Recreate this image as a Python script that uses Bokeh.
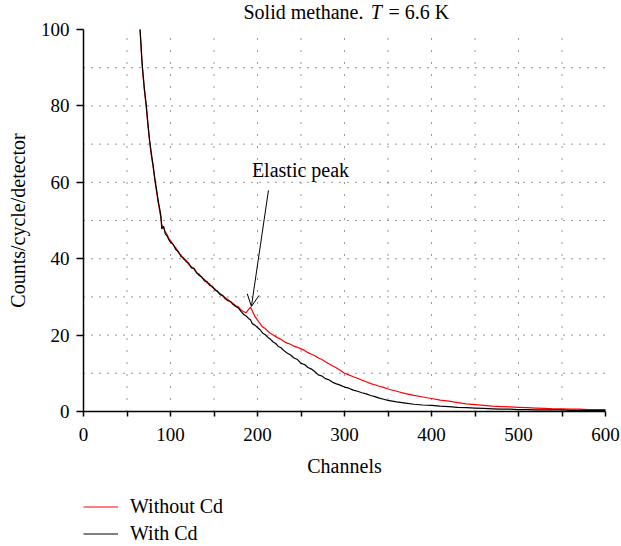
import math
from bokeh.plotting import figure
from bokeh.models import (Range1d, FixedTicker, Label, Arrow, OpenHead, Legend, LegendItem)
from bokeh.embed import file_html
from bokeh.resources import INLINE

channels = [65, 66, 67, 68, 70, 72, 74, 76, 78, 80, 82, 84, 86, 88, 89, 90, 92, 94, 96, 98,
            100, 103, 106, 109, 112, 115, 118, 121, 124, 127, 130, 133, 136, 139, 142, 145, 148, 151, 154, 157,
            160, 163, 166, 169, 172, 175, 178, 181, 184, 187, 190, 192, 194, 197, 200, 203, 206, 209, 212, 215,
            218, 221, 224, 227, 230, 234, 238, 242, 246, 250, 254, 258, 262, 266, 270, 274, 278, 282, 286, 290,
            295, 300, 305, 310, 315, 320, 325, 330, 335, 340, 345, 350, 360, 370, 380, 390, 400, 410, 420, 430,
            440, 450, 460, 470, 480, 490, 500, 510, 520, 530, 540, 550, 560, 570, 580, 590, 600]

without_cd = [100, 96, 92, 89, 84, 80, 75, 70.5, 67, 64, 60.5, 57.5, 54.5, 52, 50.5, 48.8, 48.2, 47.0, 46.4, 45.3,
              44.8, 43.6, 42.9, 41.6, 41.0, 39.9, 39.6, 38.5, 37.9, 37.3, 36.2, 36.0, 35.0, 34.6, 33.7, 33.4, 32.5, 32.1, 31.3, 30.9,
              30.2, 29.8, 29.3, 28.7, 28.3, 27.7, 27.4, 26.6, 26.1, 25.9, 26.8, 27.3, 26.4, 24.9, 23.9, 23.0, 22.1, 21.7, 21.0, 20.4,
              20.0, 19.6, 19.2, 18.9, 18.4, 17.9, 17.6, 17.1, 16.8, 16.4, 16.0, 15.4, 15.0, 14.6, 14.0, 13.6, 13.0, 12.5, 12.0, 11.5,
              10.8, 10.0, 9.6, 9.1, 8.7, 8.2, 7.8, 7.3, 7.0, 6.6, 6.3, 5.9, 5.3, 4.7, 4.2, 3.8, 3.4, 3.0, 2.7, 2.3,
              2.0, 1.8, 1.6, 1.4, 1.3, 1.2, 1.1, 1.0, 0.9, 0.8, 0.7, 0.7, 0.6, 0.6, 0.5, 0.5, 0.5]

with_cd = [100, 96.5, 92.5, 89.5, 84.5, 80.5, 75.5, 71, 67.5, 64.5, 61, 58, 55, 52.5, 51, 47.8, 48.5, 46.5, 46.0, 45.0,
           44.3, 43.8, 42.4, 41.9, 40.6, 40.2, 39.2, 38.8, 37.6, 37.5, 36.4, 35.6, 35.2, 34.2, 34.0, 33.0, 32.8, 31.8, 31.5, 30.6,
           30.4, 29.5, 29.0, 28.8, 28.0, 27.5, 27.1, 26.2, 25.4, 25.0, 24.3, 24.0, 23.0, 22.6, 22.0, 21.4, 20.5, 20.1, 19.4, 18.9,
           18.2, 17.8, 17.0, 16.7, 16.0, 15.3, 14.8, 14.0, 13.6, 12.6, 12.3, 11.5, 11.1, 10.4, 9.6, 9.3, 8.6, 8.3, 7.7, 7.3,
           6.9, 6.4, 6.1, 5.6, 5.3, 4.9, 4.6, 4.2, 3.9, 3.5, 3.2, 2.9, 2.5, 2.2, 1.9, 1.7, 1.6, 1.4, 1.3, 1.1,
           1.0, 0.9, 0.8, 0.7, 0.6, 0.6, 0.5, 0.5, 0.4, 0.4, 0.4, 0.4, 0.3, 0.3, 0.3, 0.3, 0.3]

assert len(channels) == len(without_cd) == len(with_cd)

x_ticks = [0, 100, 200, 300, 400, 500, 600]
x_minor = [50, 150, 250, 350, 450, 550]
y_ticks = [0, 20, 40, 60, 80, 100]
x_grid = [50, 100, 150, 200, 250, 300, 350, 400, 450, 500, 550]
y_grid = [10, 20, 30, 40, 50, 60, 70, 80, 90]

FONT = "Liberation Serif"

# The frame spans the whole canvas; 0..600 maps to pixels 83..605 and
# 0..100 to pixels 411..29. Axes are pinned at 0 and bounded to the data box.
W, H = 621, 546
X0_PX, X1_PX, Y0_PX, Y1_PX = 83, 605, 411, 29
sx = (X1_PX - X0_PX) / 600
sy = (Y0_PX - Y1_PX) / 100
X_LO, X_HI = -X0_PX / sx, (W - X0_PX) / sx
Y_LO, Y_HI = -(H - Y0_PX) / sy, Y0_PX / sy

p = figure(width=W, height=H, output_backend="svg", toolbar_location=None,
           x_range=Range1d(X_LO, X_HI), y_range=Range1d(Y_LO, Y_HI),
           min_border_left=0, min_border_right=0, min_border_top=0, min_border_bottom=0)
p.outline_line_color = None
p.background_fill_color = "white"
p.border_fill_color = "white"
p.xgrid.visible = False
p.ygrid.visible = False

for ax in (p.xaxis[0], p.yaxis[0]):
    ax.fixed_location = 0
    ax.axis_line_color = "black"
    ax.axis_line_width = 1.5
    ax.major_tick_line_color = "black"
    ax.major_tick_line_width = 1.5
    ax.minor_tick_line_color = "black"
    ax.minor_tick_line_width = 1.5
    ax.major_tick_in = 0
    ax.minor_tick_in = 0
    ax.major_label_text_font = FONT
    ax.major_label_text_font_size = "19px"
    ax.major_label_text_color = "black"

p.xaxis.ticker = FixedTicker(ticks=x_ticks, minor_ticks=x_minor)
p.xaxis.bounds = (0, 600)
p.xaxis.major_tick_out = 5
p.xaxis.minor_tick_out = 5
p.xaxis.major_label_standoff = 11

p.yaxis.ticker = FixedTicker(ticks=y_ticks)
p.yaxis.bounds = (0, 100)
p.yaxis.major_tick_out = 7
p.yaxis.minor_tick_out = 0
p.yaxis.major_label_standoff = 7

# axis titles
p.add_layout(Label(x=300, y=-14.2, text="Channels", text_align="center",
                   text_baseline="alphabetic", text_font=FONT, text_font_size="20px",
                   text_color="black"))
p.add_layout(Label(x=-75.5, y=50, text="Counts/cycle/detector", text_align="center",
                   text_baseline="middle", angle=math.pi / 2, text_font=FONT,
                   text_font_size="20px", text_color="black"))

# dotted grid inside the 0..600 x 0..100 box
p.segment(x0=x_grid, y0=[0] * len(x_grid), x1=x_grid, y1=[100] * len(x_grid),
          line_color="#333333", line_dash="1 11", line_width=1)
p.segment(x0=[0] * len(y_grid), y0=y_grid, x1=[600] * len(y_grid), y1=y_grid,
          line_color="#333333", line_dash="1 7", line_width=1)

r_red = p.line(channels, without_cd, line_color="#ff0000", line_width=1.2)
r_blk = p.line(channels, with_cd, line_color="black", line_width=1.2)

# annotation arrow and text
p.add_layout(Arrow(end=OpenHead(size=12, line_color="black", line_width=1),
                   x_start=212.6, y_start=57.9, x_end=193, y_end=27.5,
                   line_color="black", line_width=1))
p.add_layout(Label(x=249.4, y=63.3, text="Elastic peak", text_align="center",
                   text_baseline="alphabetic", text_font=FONT, text_font_size="20px",
                   text_color="black"))

# title in pieces (italic T)
TITLE_Y = 104.7
p.add_layout(Label(x=321.8, y=TITLE_Y, text="Solid methane.", text_align="right",
                   text_baseline="alphabetic", text_font=FONT, text_font_size="20px",
                   text_color="black"))
p.add_layout(Label(x=336.5, y=TITLE_Y, text="T", text_align="center",
                   text_baseline="alphabetic", text_font=FONT, text_font_size="20px",
                   text_font_style="italic", text_color="black"))
p.add_layout(Label(x=350.6, y=TITLE_Y, text="= 6.6 K", text_align="left",
                   text_baseline="alphabetic", text_font=FONT, text_font_size="20px",
                   text_color="black"))

legend = Legend(items=[LegendItem(label="Without Cd", renderers=[r_red]),
                       LegendItem(label="With Cd", renderers=[r_blk])],
                location=(X0_PX, 0), orientation="vertical",
                glyph_width=35, glyph_height=25, label_height=25, spacing=2,
                label_standoff=12, padding=0, margin=0,
                border_line_color=None, background_fill_alpha=0,
                label_text_font=FONT, label_text_font_size="20px", label_text_color="black")
p.add_layout(legend, "center")

open("out.html", "w").write(file_html(p, INLINE))
